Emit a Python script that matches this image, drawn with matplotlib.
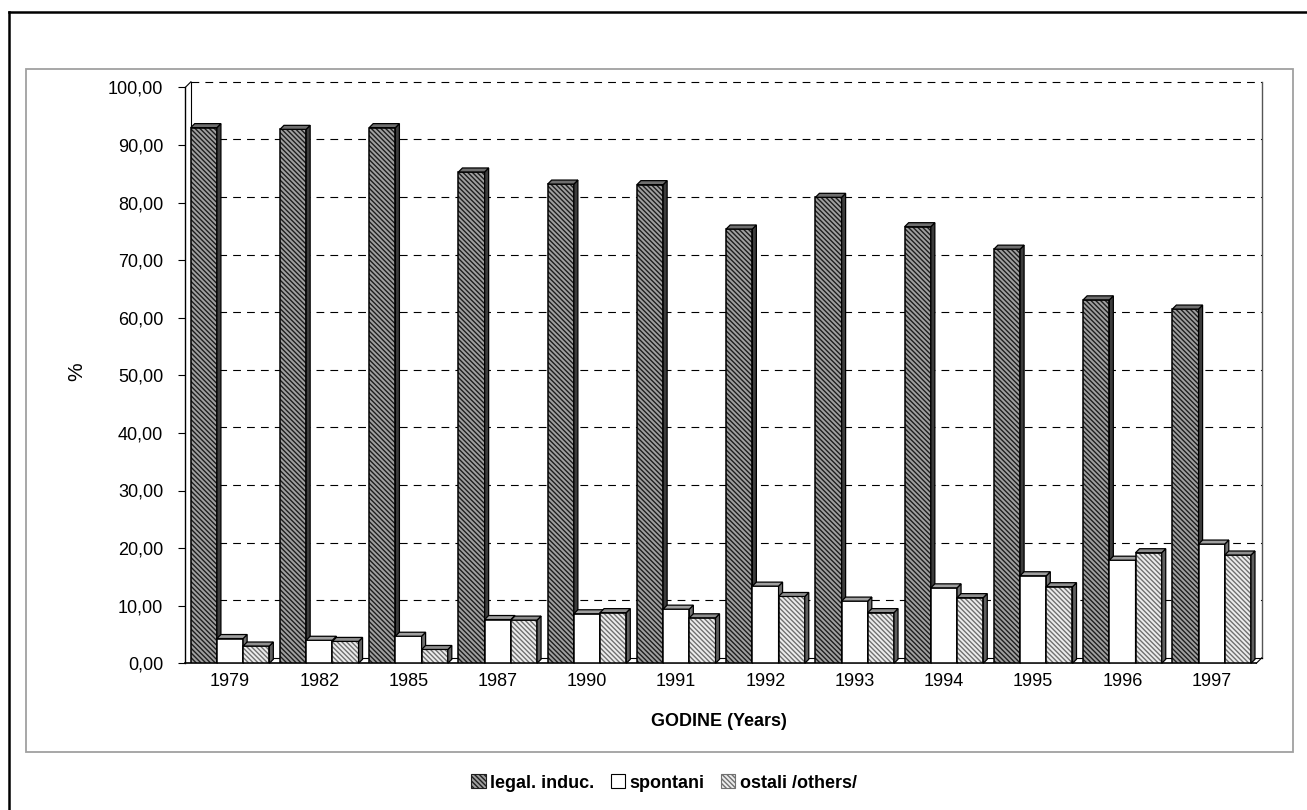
#!/usr/bin/env python3

import numpy as np
import matplotlib.pyplot as plt
from matplotlib import transforms
from matplotlib.patches import Polygon, Rectangle, Patch
from matplotlib.lines import Line2D

plt.rcParams['font.family'] = ['Liberation Sans', 'DejaVu Sans']
plt.rcParams['hatch.linewidth'] = 1.0

# Data (percent shares by year)
years = ['1979', '1982', '1985', '1987', '1990', '1991',
         '1992', '1993', '1994', '1995', '1996', '1997']
legal = [93.0, 92.7, 93.0, 85.3, 83.2, 83.1, 75.4, 80.9, 75.8, 71.9, 63.1, 61.5]
spontani = [4.3, 4.0, 4.7, 7.6, 8.6, 9.4, 13.4, 10.8, 13.1, 15.2, 17.9, 20.7]
ostali = [3.0, 3.8, 2.4, 7.5, 8.8, 7.9, 11.6, 8.8, 11.4, 13.3, 19.2, 18.8]
series_names = ['legal. induc.', 'spontani', 'ostali /others/']
yticks = np.arange(0, 101, 10)

# style per series: front face, hatch colour, side, top
styles = [
    dict(face='#a0a0a0', hatch='\\' * 7, hcol='#1e1e1e', side='#3c3c3c', top='#6e6e6e'),
    dict(face='white', hatch=None, hcol='black', side='#707070', top='#a0a0a0'),
    dict(face='#ececec', hatch='\\' * 7, hcol='#707070', side='#606060', top='#8e8e8e'),
]

W, H, DPI = 13.07, 8.10, 100
fig = plt.figure(figsize=(W, H), dpi=DPI)
fig.patch.set_facecolor('white')

# outer black frame (left and top visible) and inner grey chart box
fig.add_artist(Line2D([9 / 1307, 9 / 1307], [1 - 12 / 810, 0], lw=1.8, color='black'))
fig.add_artist(Line2D([9 / 1307, 1], [1 - 12 / 810, 1 - 12 / 810], lw=1.8, color='black'))
fig.add_artist(Rectangle((26 / 1307, 1 - 752 / 810), (1293 - 26) / 1307, (752 - 69) / 810,
                         transform=fig.transFigure, fill=False, edgecolor='#a0a0a0', lw=1.3))

ax = fig.add_axes([185.4 / 1307, 1 - 663.3 / 810, 1070.9 / 1307, 576 / 810])
n = len(years)
ax.set_xlim(-0.5, n - 0.5)
ax.set_ylim(0, 100)
ax.patch.set_visible(False)
for s in ax.spines.values():
    s.set_visible(False)

# pixel -> data unit conversion for the 3D depth
bb = ax.get_position()
px_per_x = bb.width * W * DPI / n
px_per_y = bb.height * H * DPI / 100
wall_d = 5.5
bar_d = 4.0
wdx, wdy = wall_d / px_per_x, wall_d / px_per_y
bdx, bdy = bar_d / px_per_x, bar_d / px_per_y

# back wall: dashed gridlines, edges, floor
off_wall = transforms.offset_copy(ax.transData, fig=fig, x=wall_d, y=wall_d, units='dots')
ax.hlines(yticks[1:], -0.5, n - 0.5, transform=off_wall, colors='black',
          linestyles=(0, (7, 5.5)), lw=0.8, zorder=0.5, clip_on=False)
ax.plot([-0.5, -0.5], [0, 100], transform=off_wall, color='black', lw=0.8,
        zorder=0.6, clip_on=False)
ax.plot([n - 0.5, n - 0.5], [0, 100], transform=off_wall, color='#555555', lw=1.0,
        zorder=0.6, clip_on=False)
ax.plot([-0.5, n - 0.5], [0, 0], transform=off_wall, color='black', lw=0.8,
        zorder=0.6, clip_on=False)
ax.plot([-0.5, -0.5], [0, 100], color='black', lw=1.0, zorder=0.7, clip_on=False)
ax.plot([-0.5, -0.5 + wdx], [100, 100 + wdy], color='black', lw=0.8, clip_on=False)
ax.plot([-0.5, n - 0.5], [0, 0], color='black', lw=1.2, zorder=0.7, clip_on=False)
ax.plot([n - 0.5, n - 0.5 + wdx], [0, wdy], color='black', lw=0.8, clip_on=False)

# 3D-looking bars
bw = 0.2936
x = np.arange(n)
for i in range(n):
    for j, vals in enumerate([legal, spontani, ostali]):
        st = styles[j]
        z = 2 + i * 3 + j
        v = vals[i]
        x0 = x[i] + (j - 1.5) * bw
        x1 = x0 + bw
        ax.bar(x0, v, bw, align='edge', color=st['face'], hatch=st['hatch'],
               edgecolor=st['hcol'], lw=0, zorder=z)
        ax.bar(x0, v, bw, align='edge', fill=False, edgecolor='black', lw=1.1, zorder=z)
        side = [(x1, 0), (x1, v), (x1 + bdx, v + bdy), (x1 + bdx, bdy)]
        top = [(x0, v), (x1, v), (x1 + bdx, v + bdy), (x0 + bdx, v + bdy)]
        ax.add_patch(Polygon(side, closed=True, facecolor=st['side'],
                             edgecolor='black', lw=0.9, zorder=z, clip_on=False))
        ax.add_patch(Polygon(top, closed=True, facecolor=st['top'],
                             edgecolor='black', lw=0.9, zorder=z, clip_on=False))

# axes ticks and labels
ax.set_yticks(yticks)
ax.set_yticklabels([f'{t:.2f}'.replace('.', ',') for t in yticks])
ax.set_xticks(x)
ax.set_xticklabels(years)
ax.tick_params(axis='y', direction='out', length=5, width=0.8, pad=11, labelsize=13)
ax.tick_params(axis='x', length=0, pad=7, labelsize=13)

fig.text(77 / 1307, 1 - 372 / 810, '%', rotation=90, ha='center', va='center', fontsize=15)
fig.text(719 / 1307, 1 - 722 / 810, 'GODINE (Years)', ha='center', va='center',
         fontsize=13, fontweight='heavy')

handles = [Patch(facecolor=st['face'], hatch=st['hatch'],
                 edgecolor=st['hcol'] if j != 1 else 'black', lw=0.8)
           for j, st in enumerate(styles)]
fig.legend(handles, series_names, loc='center', bbox_to_anchor=(664 / 1307, 1 - 783 / 810),
           ncol=3, frameon=False, handlelength=0.8, handleheight=0.8, handletextpad=0.25,
           columnspacing=0.9, prop={'weight': 'bold', 'size': 13})

fig.savefig('out.png', dpi=DPI)
